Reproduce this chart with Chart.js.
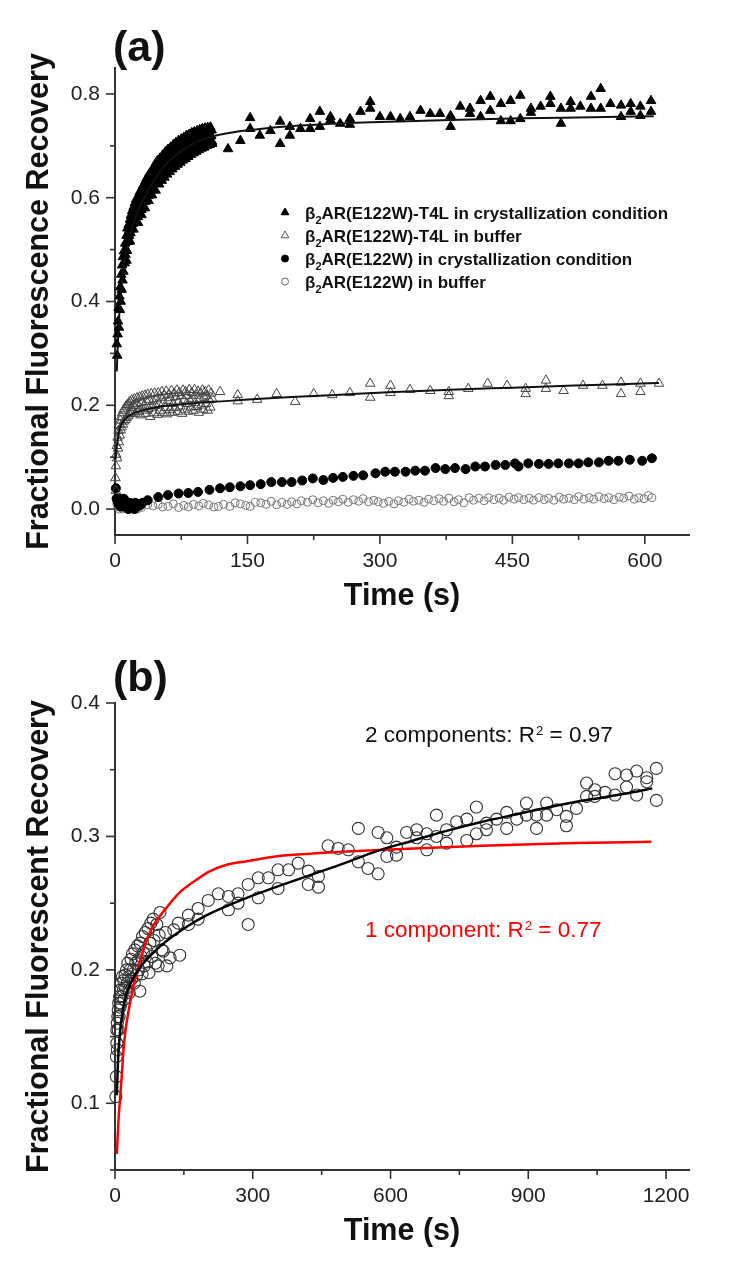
<!DOCTYPE html>
<html>
<head>
<meta charset="utf-8">
<script src="https://cdn.jsdelivr.net/npm/chart.js@4.4.0/dist/chart.umd.min.js"></script>
<style>
  html, body { margin: 0; padding: 0; background: #fff; }
  #wrap { position: relative; width: 750px; height: 1270px; }
  .panel { position: absolute; left: 0; width: 750px; height: 635px; }
</style>
</head>
<body>
<div id="wrap">
  <div class="panel" style="top:0"><canvas id="chartA" width="750" height="635"></canvas></div>
  <div class="panel" style="top:635px"><canvas id="chartB" width="750" height="635"></canvas></div>
</div>
<script>
// ---- panel (a) data: [time (s), fractional recovery] ----
const t4lCrystPoints = [
  [2,0.318],[2.5,0.296],[3,0.337],[3.5,0.362],[4,0.388],[4.5,0.35],[5,0.41],[5.5,0.384],[6,0.428],[6.5,0.40],
  [7,0.452],[7.5,0.423],[8,0.47],[8.5,0.441],[9,0.486],[9.5,0.458],[10,0.497],[11,0.474],[11.5,0.512],[12,0.49],
  [13,0.527],[13.5,0.498],[14,0.541],[15,0.515],[15.5,0.548],[16,0.527],[17,0.558],[17.5,0.532],[18,0.566],
  [19,0.541],[19.5,0.575],[20,0.55],[21,0.582],[22,0.556],[22.5,0.59],[23,0.568],[24,0.597],[25,0.574],
  [26,0.552],[26.5,0.603],[27,0.583],[28,0.611],[29,0.588],[30,0.567],[30.5,0.618],[31,0.597],[32,0.624],
  [33,0.603],[34,0.58],[34.5,0.632],[35,0.611],[36,0.638],[37,0.615],[38,0.594],[38.5,0.645],[39,0.622],
  [40,0.648],[41,0.627],[42,0.605],[42.5,0.655],[43,0.633],[44,0.66],[45,0.638],[46,0.614],[46.5,0.667],
  [47,0.645],[48,0.671],[49,0.649],[50,0.626],[51,0.676],[52,0.654],[53,0.633],[54,0.682],[55,0.66],
  [56,0.639],[57,0.688],[58,0.666],[59,0.645],[60,0.693],[61,0.671],[62,0.65],[63,0.697],[64,0.676],
  [65,0.655],[66,0.702],[67,0.68],[68,0.66],[69,0.706],[70,0.685],[71,0.664],[72,0.71],[73,0.689],
  [74,0.668],[75,0.713],[76,0.692],[77,0.672],[78,0.716],[79,0.696],[80,0.675],[81,0.72],[82,0.7],
  [83,0.679],[84,0.722],[85,0.702],[86,0.683],[87,0.725],[88,0.705],[89,0.686],[90,0.727],[91,0.708],
  [92,0.689],[93,0.729],[94,0.71],[95,0.692],[96,0.731],[97,0.712],[98,0.695],[99,0.733],[100,0.714],
  [101,0.697],[102,0.734],[103,0.716],[104,0.7],[105,0.735],[106,0.718],[107,0.702],[108,0.736],
  [109,0.719],[110,0.704],
  [12.5,0.501],[13,0.479],[16.5,0.538],[17,0.516],[20.5,0.561],[21,0.539],[25.5,0.585],[26,0.563],
  [29.5,0.599],[30,0.577],[33.5,0.614],[34,0.592],[37.5,0.626],[38,0.604],[41.5,0.638],[42,0.616],
  [45.5,0.649],[46,0.627],[49.5,0.66],[50,0.638],[52.5,0.665],[53,0.643],[55.5,0.671],[56,0.649],
  [58.5,0.677],[59,0.655],[61.5,0.682],[62,0.66],[64.5,0.687],[65,0.665],[67.5,0.691],[68,0.669],
  [70.5,0.696],[71,0.674],[73.5,0.70],[74,0.678],[76.5,0.703],[77,0.681],[79.5,0.707],[80,0.685],
  [82.5,0.711],[83,0.689],[85.5,0.713],[86,0.691],[88.5,0.716],[89,0.694],[91.5,0.719],[92,0.697],
  [94.5,0.721],[95,0.699],[97.5,0.723],[98,0.701],[100.5,0.725],[101,0.703],[103.5,0.727],[104,0.705],
  [106.5,0.729],[107,0.707],[109.5,0.73],[110,0.708],
  [128,0.694],[142,0.71],[153,0.754],[153,0.733],[164,0.72],[176,0.729],[187,0.747],[187,0.704],
  [198,0.737],[198,0.72],[210,0.733],[221,0.752],[221,0.733],[232,0.766],[232,0.737],[244,0.756],
  [244,0.75],[255,0.743],[266,0.752],[266,0.741],[278,0.766],[289,0.785],[289,0.772],[300,0.756],
  [312,0.756],[323,0.752],[334,0.756],[346,0.768],[357,0.762],[368,0.762],[380,0.758],[380,0.737],
  [391,0.776],[402,0.772],[402,0.762],[414,0.787],[414,0.756],[425,0.795],[425,0.768],[437,0.781],
  [437,0.748],[448,0.787],[448,0.748],[459,0.797],[459,0.752],[471,0.772],[471,0.764],[482,0.776],
  [493,0.795],[493,0.781],[505,0.772],[505,0.743],[516,0.785],[516,0.772],[527,0.776],[539,0.795],
  [539,0.772],[550,0.81],[550,0.772],[561,0.781],[573,0.778],[573,0.756],[584,0.781],[584,0.766],
  [595,0.776],[595,0.758],[607,0.787],[607,0.766]
];
const t4lCrystFit = [
  [2,0.265],[3,0.31],[4,0.35],[6,0.40],[8,0.44],[11,0.48],[15,0.515],[20,0.545],[26,0.575],[33,0.60],
  [42,0.628],[53,0.655],[66,0.678],[82,0.698],[100,0.713],[120,0.722],[150,0.73],[190,0.737],
  [240,0.742],[300,0.746],[380,0.75],[460,0.753],[540,0.755],[610,0.757]
];
const t4lBufferPoints = [
  [0.5,0.06],[1,0.035],[1,0.083],[1.5,0.105],[2,0.122],[2.5,0.098],[3,0.138],[3.5,0.117],[4,0.151],
  [4.5,0.129],[5,0.163],[5.5,0.142],[6,0.171],[6.5,0.152],[7,0.178],[7.5,0.158],[8,0.185],[9,0.163],
  [9.5,0.19],[10,0.169],[11,0.194],[12,0.172],[12.5,0.198],[13,0.176],[14,0.201],[15,0.179],[15.5,0.204],
  [16,0.183],[17,0.207],[18,0.185],[18.5,0.195],[19,0.21],[20,0.187],[21,0.199],[22,0.212],[23,0.184],
  [24,0.203],[25,0.214],[26,0.188],[27,0.198],[28,0.216],[29,0.181],[30,0.205],[31,0.218],[32,0.19],
  [33,0.2],[34,0.219],[35,0.184],[36,0.207],[37,0.221],[38,0.193],[39,0.211],[40,0.178],[41,0.222],
  [42,0.196],[43,0.208],[44,0.185],[45,0.223],[46,0.199],[47,0.212],[48,0.182],[49,0.224],[50,0.203],
  [51,0.19],[52,0.215],[53,0.226],[54,0.186],[55,0.205],[56,0.219],[57,0.195],[58,0.227],[59,0.183],
  [60,0.209],[61,0.221],[62,0.191],[63,0.214],[64,0.228],[65,0.186],[66,0.203],[67,0.223],[68,0.195],
  [69,0.216],[70,0.229],[71,0.188],[72,0.207],[73,0.224],[74,0.198],[75,0.218],[76,0.184],[77,0.229],
  [78,0.21],[79,0.192],[80,0.226],[81,0.203],[82,0.219],[83,0.188],[84,0.23],[85,0.208],[86,0.196],
  [87,0.224],[88,0.213],[89,0.19],[90,0.23],[91,0.205],[92,0.219],[93,0.197],[94,0.227],[95,0.186],
  [96,0.212],[97,0.223],[98,0.2],[99,0.229],[100,0.192],[101,0.215],[102,0.226],[103,0.203],[104,0.218],
  [105,0.19],[106,0.229],[107,0.21],[108,0.196],[109,0.223],[110,0.213],
  [119,0.226],[139,0.22],[139,0.208],[161,0.211],[183,0.222],[204,0.207],[225,0.222],[246,0.22],
  [266,0.224],[289,0.242],[289,0.215],[312,0.238],[312,0.224],[334,0.23],[357,0.228],[378,0.226],
  [378,0.218],[400,0.232],[422,0.242],[444,0.238],[465,0.232],[465,0.222],[488,0.248],[488,0.232],
  [508,0.228],[530,0.238],[552,0.238],[573,0.244],[573,0.222],[595,0.242],[595,0.226],[616,0.242]
];
const t4lBufferFit = [
  [0.5,0.095],[2,0.12],[4,0.145],[6,0.158],[9,0.168],[13,0.176],[18,0.182],[25,0.187],[35,0.192],
  [50,0.197],[70,0.201],[95,0.205],[125,0.208],[160,0.212],[200,0.216],[250,0.22],[310,0.225],
  [380,0.23],[450,0.234],[520,0.238],[580,0.241],[616,0.243]
];
const e122wCrystPoints = [
  [1,0.04],[2,0.02],[3,0.015],[4,0.01],[5,0.02],[6,0.005],[7,0.015],[8,0.01],[10,0.02],[11,0.005],
  [12,0.015],[14,0.01],[15,0.0],[17,0.012],[18,0.005],[20,0.01],[22,0.0],[23,0.012],[25,0.005],[27,0.01],
  [29,0.008],[31,0.012],[37,0.017],[49,0.023],[60,0.027],[72,0.03],[83,0.031],[94,0.033],[107,0.037],
  [119,0.04],[130,0.042],[142,0.044],[153,0.046],[165,0.048],[177,0.052],[189,0.052],[200,0.052],
  [212,0.055],[224,0.059],[236,0.056],[247,0.06],[258,0.062],[270,0.064],[281,0.065],[295,0.069],
  [306,0.072],[317,0.072],[329,0.072],[340,0.074],[351,0.074],[363,0.079],[374,0.077],[385,0.079],
  [397,0.077],[408,0.082],[419,0.082],[431,0.085],[442,0.085],[453,0.088],[457,0.082],[468,0.088],
  [480,0.087],[491,0.087],[502,0.088],[514,0.088],[525,0.088],[536,0.09],[548,0.09],[559,0.093],
  [570,0.093],[583,0.095],[597,0.093],[608,0.098]
];
const e122wBufferPoints = [
  [1,0.02],[2,0.01],[3,0.005],[4,0.012],[5,0.0],[6,0.008],[7,0.003],[8,0.01],[9,0.0],[10,0.006],
  [12,0.002],[13,0.009],[14,0.0],[16,0.005],[17,0.0],[19,0.006],[21,0.002],[23,0.005],[25,0.0],[27,0.004],
  [30,0.003],[37,0.008],[43,0.006],[49,0.009],[54,0.004],[60,0.005],[66,0.01],[72,0.003],[78,0.007],
  [83,0.004],[89,0.009],[95,0.006],[100,0.011],[106,0.008],[112,0.004],[117,0.005],[123,0.009],
  [130,0.005],[136,0.012],[142,0.01],[148,0.007],[153,0.005],[159,0.013],[165,0.012],[171,0.009],
  [177,0.015],[183,0.008],[189,0.013],[195,0.009],[200,0.014],[206,0.01],[211,0.016],[218,0.013],
  [224,0.018],[230,0.012],[236,0.016],[242,0.011],[247,0.017],[253,0.014],[258,0.019],[264,0.013],
  [270,0.018],[276,0.015],[281,0.02],[287,0.014],[293,0.017],[298,0.014],[304,0.011],[310,0.015],
  [316,0.01],[321,0.016],[327,0.013],[333,0.019],[338,0.015],[344,0.017],[350,0.013],[355,0.019],
  [361,0.016],[367,0.02],[372,0.015],[378,0.021],[384,0.014],[389,0.018],[395,0.012],[401,0.022],
  [406,0.017],[412,0.021],[418,0.016],[423,0.022],[429,0.018],[435,0.021],[440,0.017],[446,0.023],
  [452,0.019],[457,0.022],[463,0.018],[469,0.021],[474,0.017],[480,0.022],[486,0.018],[491,0.021],
  [497,0.017],[503,0.023],[508,0.019],[514,0.021],[520,0.018],[525,0.024],[531,0.019],[537,0.022],
  [542,0.019],[548,0.024],[554,0.02],[559,0.022],[565,0.018],[571,0.023],[576,0.021],[582,0.025],
  [588,0.019],[593,0.022],[599,0.02],[604,0.026],[608,0.022]
];
const legendLabelsA = [
  'AR(E122W)-T4L in crystallization condition',
  'AR(E122W)-T4L in buffer',
  'AR(E122W) in crystallization condition',
  'AR(E122W) in buffer'
];
const xTicksA = [0, 75, 150, 225, 300, 375, 450, 525, 600];
const xLabelsA = ['0', '', '150', '', '300', '', '450', '', '600'];
const yTicksA = [0, 0.1, 0.2, 0.3, 0.4, 0.5, 0.6, 0.7, 0.8];
const yLabelsA = ['0.0', '', '0.2', '', '0.4', '', '0.6', '', '0.8'];

// ---- panel (b) data ----
const recoveryPoints = [
  [2,0.105],[3,0.12],[3,0.135],[4,0.145],[4,0.155],[5,0.16],[5,0.14],[6,0.165],[7,0.17],[7,0.155],
  [8,0.175],[9,0.165],[10,0.18],[11,0.172],[12,0.185],[13,0.175],[14,0.19],[15,0.18],[16,0.195],[18,0.185],
  [19,0.192],[20,0.178],[22,0.196],[23,0.186],[25,0.2],[27,0.19],[28,0.205],[30,0.195],[31,0.183],[33,0.2],
  [35,0.208],[36,0.193],[38,0.212],[40,0.2],[42,0.19],[43,0.215],[45,0.205],[47,0.196],[49,0.218],[50,0.207],
  [52,0.2],[54,0.184],[55,0.22],[57,0.21],[59,0.197],[60,0.225],[62,0.213],[64,0.203],[66,0.228],[68,0.215],
  [70,0.206],[72,0.231],[74,0.198],[76,0.22],[78,0.235],[80,0.21],[83,0.238],[85,0.222],[88,0.205],[91,0.234],
  [94,0.203],[96,0.226],[98,0.243],[102,0.215],[105,0.214],[110,0.228],[113,0.203],[120,0.209],[128,0.23],
  [138,0.235],[141,0.211],[160,0.241],[160,0.234],[181,0.246],[181,0.238],[203,0.252],[225,0.257],
  [247,0.255],[247,0.245],[268,0.257],[268,0.25],[290,0.264],[290,0.234],[312,0.269],[312,0.254],
  [334,0.269],[355,0.275],[355,0.261],[378,0.275],[399,0.28],[421,0.274],[421,0.264],[443,0.27],
  [443,0.262],[464,0.293],[486,0.291],[508,0.29],[530,0.306],[530,0.281],[551,0.276],[573,0.303],
  [573,0.272],[592,0.299],[592,0.285],[613,0.292],[613,0.286],[635,0.303],[657,0.305],[657,0.299],
  [679,0.302],[679,0.29],[700,0.316],[700,0.3],[722,0.305],[722,0.295],[744,0.311],[766,0.313],
  [766,0.297],[787,0.322],[787,0.302],[809,0.31],[809,0.305],[831,0.313],[853,0.318],[853,0.306],
  [875,0.313],[896,0.325],[896,0.316],[918,0.316],[918,0.306],[940,0.325],[940,0.316],[962,0.32],
  [983,0.315],[983,0.308],[1005,0.321],[1027,0.34],[1027,0.33],[1045,0.335],[1045,0.33],[1067,0.333],
  [1089,0.347],[1089,0.331],[1114,0.346],[1114,0.337],[1136,0.349],[1136,0.331],[1158,0.344],
  [1158,0.341],[1179,0.351],[1179,0.327]
];
const twoComponentFit = [
  [4,0.106],[7,0.135],[11,0.153],[15,0.165],[20,0.175],[28,0.185],[40,0.194],[55,0.202],[70,0.208],
  [90,0.215],[110,0.221],[150,0.231],[200,0.241],[280,0.253],[350,0.262],[425,0.271],[500,0.28],
  [570,0.289],[650,0.297],[720,0.304],[800,0.311],[880,0.317],[960,0.323],[1040,0.328],[1110,0.332],
  [1170,0.336]
];
const oneComponentFit = [
  [4,0.062],[8,0.09],[11,0.103],[15,0.122],[18,0.138],[23,0.155],[29,0.168],[36,0.181],[44,0.193],
  [53,0.205],[62,0.215],[72,0.225],[83,0.233],[97,0.24],[113,0.247],[141,0.258],[175,0.267],[207,0.274],
  [245,0.279],[280,0.281],[350,0.285],[425,0.287],[526,0.289],[650,0.291],[800,0.293],[1000,0.295],
  [1168,0.296]
];
const xTicksB = [0, 150, 300, 450, 600, 750, 900, 1050, 1200];
const xLabelsB = ['0', '', '300', '', '600', '', '900', '', '1200'];
const yTicksB = [0.05, 0.1, 0.15, 0.2, 0.25, 0.3, 0.35, 0.4];
const yLabelsB = ['', '0.1', '', '0.2', '', '0.3', '', '0.4'];

const FONT = '"Liberation Sans", Arial, sans-serif';
const toXY = pts => pts.map(([x, y]) => ({ x, y }));

function pointSet(label, pts, style) {
  return Object.assign({ label, data: toXY(pts), showLine: false, clip: false }, style);
}

function fitSet(label, pts, color, width) {
  return {
    label, data: toXY(pts), showLine: true, pointRadius: 0, borderColor: color,
    borderWidth: width, cubicInterpolationMode: 'monotone', clip: false, fill: false
  };
}

function axis(horizontal, min, max, ticks, labels, title) {
  return {
    type: 'linear', min, max,
    afterBuildTicks: s => { s.ticks = ticks.map(v => ({ value: v })); },
    afterFit: s => { if (horizontal) s.height = 100; else s.width = 115; },
    ticks: {
      autoSkip: false, maxRotation: 0, padding: horizontal ? 5 : 6, color: '#222',
      font: { family: FONT, size: 21 },
      callback: (v, i) => labels[i]
    },
    grid: { display: true, drawOnChartArea: false, drawTicks: true, tickLength: 9, tickColor: 'rgba(0,0,0,0)' },
    border: { display: true, color: '#333', width: 2 },
    title: {
      display: true, text: title, color: '#111',
      font: { family: FONT, size: 30.5, weight: 'bold' },
      padding: horizontal ? { top: 0, bottom: 20 } : { top: 21, bottom: 0 }
    }
  };
}

// outward tick marks, long for labelled ticks and short for the others
const tickMarks = {
  id: 'tickMarks',
  afterDraw(chart) {
    const ctx = chart.ctx;
    const xs = chart.scales.x, ys = chart.scales.y;
    ctx.save();
    ctx.strokeStyle = '#333';
    ctx.lineWidth = 1.6;
    xs.ticks.forEach(t => {
      const px = xs.getPixelForValue(t.value);
      ctx.beginPath();
      ctx.moveTo(px, xs.top);
      ctx.lineTo(px, xs.top + (t.label ? 9 : 5));
      ctx.stroke();
    });
    ys.ticks.forEach(t => {
      const py = ys.getPixelForValue(t.value);
      ctx.beginPath();
      ctx.moveTo(ys.right, py);
      ctx.lineTo(ys.right - (t.label ? 9 : 5), py);
      ctx.stroke();
    });
    ctx.restore();
  }
};

// panel letter, legend and fit notes
const panelDecor = {
  id: 'panelDecor',
  afterDraw(chart, args, o) {
    const ctx = chart.ctx;
    ctx.save();
    ctx.textBaseline = 'alphabetic';
    ctx.fillStyle = '#111';
    ctx.font = 'bold 43px ' + FONT;
    ctx.fillText(o.tag, 113, o.tagY);

    (o.legend || []).forEach((item, i) => {
      const y = o.legendY + i * o.legendStep;
      ctx.fillStyle = item.fill;
      ctx.strokeStyle = item.stroke;
      ctx.lineWidth = 1;
      Chart.helpers.drawPoint(ctx, { pointStyle: item.style, radius: item.radius, rotation: 0, borderWidth: 1 },
        o.legendX, y - 6.5);
      ctx.fillStyle = '#111';
      let x = o.legendX + 20;
      ctx.font = 'bold 17px ' + FONT;
      ctx.fillText('\u03b2', x, y);
      x += ctx.measureText('\u03b2').width;
      ctx.font = 'bold 11px ' + FONT;
      ctx.fillText('2', x, y + 5);
      x += ctx.measureText('2').width;
      ctx.font = 'bold 17px ' + FONT;
      ctx.fillText(item.text, x, y);
    });

    (o.notes || []).forEach(n => {
      ctx.fillStyle = n.color;
      let x = n.x;
      ctx.font = '22.5px ' + FONT;
      ctx.fillText(n.before, x, n.y);
      x += ctx.measureText(n.before).width + 1;
      ctx.font = '13px ' + FONT;
      ctx.fillText('2', x, n.y - 7);
      x += ctx.measureText('2').width;
      ctx.font = '22.5px ' + FONT;
      ctx.fillText(n.after, x, n.y);
    });
    ctx.restore();
  }
};

function makePanel(id, datasets, scales, decor) {
  return new Chart(document.getElementById(id), {
    type: 'scatter',
    data: { datasets },
    options: {
      responsive: false,
      animation: false,
      layout: { padding: { left: 0, right: 61, top: 68, bottom: 0 } },
      scales,
      plugins: { legend: { display: false }, tooltip: { enabled: false }, panelDecor: decor }
    },
    plugins: [tickMarks, panelDecor]
  });
}

makePanel('chartA', [
  fitSet('T4L crystallization fit', t4lCrystFit, '#111', 2),
  fitSet('T4L buffer fit', t4lBufferFit, '#111', 2),
  pointSet('T4L crystallization', t4lCrystPoints, {
    pointStyle: 'triangle', pointRadius: 5.5, backgroundColor: '#000', borderColor: '#000', borderWidth: 1
  }),
  pointSet('T4L buffer', t4lBufferPoints, {
    pointStyle: 'triangle', pointRadius: 5.5, backgroundColor: 'rgba(0,0,0,0)', borderColor: '#444', borderWidth: 1
  }),
  pointSet('E122W crystallization', e122wCrystPoints, {
    pointStyle: 'circle', pointRadius: 4.5, backgroundColor: '#000', borderColor: '#000', borderWidth: 1
  }),
  pointSet('E122W buffer', e122wBufferPoints, {
    pointStyle: 'circle', pointRadius: 4, backgroundColor: 'rgba(0,0,0,0)', borderColor: '#777', borderWidth: 1
  })
], {
  x: axis(true, 0, 650, xTicksA, xLabelsA, 'Time (s)'),
  y: axis(false, -0.05, 0.85, yTicksA, yLabelsA, 'Fractional Fluorescence Recovery')
}, {
  tag: '(a)', tagY: 61,
  legendX: 285, legendY: 219, legendStep: 23,
  legend: [
    { style: 'triangle', radius: 4.5, fill: '#000', stroke: '#000', text: legendLabelsA[0] },
    { style: 'triangle', radius: 4.5, fill: '#fff', stroke: '#555', text: legendLabelsA[1] },
    { style: 'circle', radius: 3.5, fill: '#000', stroke: '#000', text: legendLabelsA[2] },
    { style: 'circle', radius: 3.5, fill: '#fff', stroke: '#666', text: legendLabelsA[3] }
  ]
});

makePanel('chartB', [
  fitSet('2 components', twoComponentFit, '#000', 2.5),
  fitSet('1 component', oneComponentFit, '#ff0000', 2.5),
  pointSet('recovery', recoveryPoints, {
    pointStyle: 'circle', pointRadius: 6, backgroundColor: 'rgba(0,0,0,0)', borderColor: '#333', borderWidth: 1.1
  })
], {
  x: axis(true, 0, 1250, xTicksB, xLabelsB, 'Time (s)'),
  y: axis(false, 0.05, 0.4, yTicksB, yLabelsB, 'Fractional Fluorescent Recovery')
}, {
  tag: '(b)', tagY: 56,
  notes: [
    { color: '#111', x: 365, y: 107, before: '2 components: R', after: ' = 0.97' },
    { color: '#ff0000', x: 365, y: 302, before: '1 component: R', after: ' = 0.77' }
  ]
});
</script>
</body>
</html>
